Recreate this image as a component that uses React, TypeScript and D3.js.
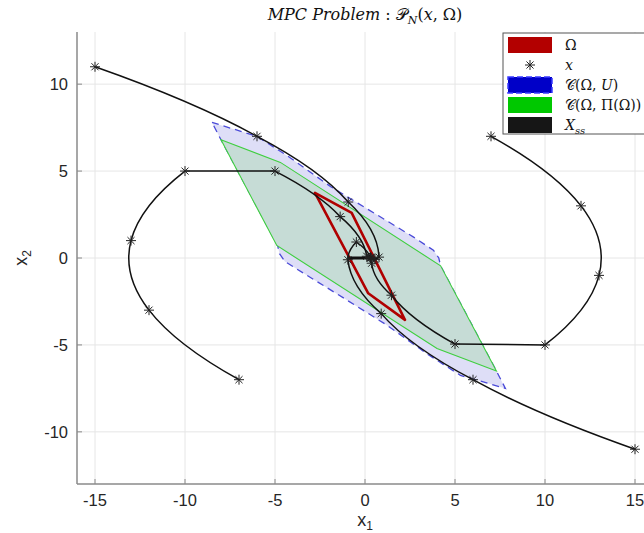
import React from "react";
import * as d3 from "d3";

const W = 644;
const H = 533;
const M = { top: 32, right: -9, bottom: 49, left: 77 };

const xTicks = [-15, -10, -5, 0, 5, 10, 15];
const yTicks = [-10, -5, 0, 5, 10];

// C(Omega, U): outer set (blue dashed)
const blueSet = [
  [-8.5, 7.8], [-6.0, 7.0], [-4.2, 5.8], [-1.9, 4.1], [0.8, 2.4], [2.7, 1.2],
  [3.8, 0.45], [4.1, 0.0], [4.2, -0.45], [7.3, -6.5], [7.8, -7.5], [5.3, -6.75],
  [3.5, -5.55], [1.2, -3.85], [-1.5, -2.1], [-3.3, -0.95], [-4.45, -0.2],
  [-4.75, 0.25], [-4.85, 0.7], [-8.0, 6.8],
];

// C(Omega, Pi(Omega)): green set
const greenSet = [
  [-8.0, 6.8], [-4.7, 5.5], [4.2, -0.45], [7.3, -6.5], [4.0, -5.2], [-4.9, 0.72],
];

// Omega: red set
const omegaSet = [
  [-2.78, 3.75], [-0.74, 2.6], [2.22, -3.56], [0.18, -2.03],
];

// X_ss segment
const xss = [[-0.92, 0], [0.48, 0]];

// closed-loop trajectories (sampled states)
const traj1 = [[-15, 11], [-6, 7], [-0.93, 3.22], [0.78, 0.05], [0.55, -0.08], [0.35, 0]];
const traj2 = [[-7, -7], [-12, -3], [-13, 1], [-10, 5], [-5, 5], [-1.38, 2.38], [0.1, 0.1], [0.3, 0]];
const traj3 = [[7, 7], [12, 3], [13, -1], [10, -5], [5, -4.95], [1.47, -2.14], [0.37, -0.3], [0.3, 0]];
const traj4 = [[15, -11], [6, -7], [0.9, -3.2], [-0.95, -0.1], [-0.48, 0.92], [0.3, 0.05]];
const trajectories = [traj1, traj2, traj3, traj4];

const legendItems = ["omega", "x", "cu", "cpi", "xss"];

export default function App() {
  const x = d3.scaleLinear().domain([-16, 16]).range([M.left, W - M.right]);
  const y = d3.scaleLinear().domain([-13, 13]).range([H - M.bottom, M.top]);

  const poly = (pts: number[][]) =>
    "M" + pts.map((p) => `${x(p[0])},${y(p[1])}`).join("L") + "Z";

  // smooth path between samples (double integrator style arcs)
  const trajPath = (pts: number[][]) => {
    const p = d3.path();
    p.moveTo(x(pts[0][0]), y(pts[0][1]));
    for (let i = 1; i < pts.length; i++) {
      const [a1, a2] = pts[i - 1];
      const [b1, b2] = pts[i];
      const cx = (a1 + a2 / 2 + (b1 - b2 / 2)) / 2;
      const cy = (a2 + b2) / 2;
      p.quadraticCurveTo(x(cx), y(cy), x(b1), y(b2));
    }
    return p.toString();
  };

  const star = (cx: number, cy: number, r: number, key: string) => (
    <g key={key} stroke="#222" strokeWidth={1}>
      {[0, 45, 90, 135].map((a) => {
        const rad = (a * Math.PI) / 180;
        const dx = Math.cos(rad) * r;
        const dy = Math.sin(rad) * r;
        return <line key={a} x1={cx - dx} y1={cy - dy} x2={cx + dx} y2={cy + dy} />;
      })}
    </g>
  );

  const x0 = M.left;
  const yb = H - M.bottom;
  const serif = "'DejaVu Serif', 'Liberation Serif', serif";
  const sans = "'Liberation Sans', Arial, sans-serif";

  const lgX = 503;
  const lgY = 33;
  const rowY = (i: number) => lgY + 12 + i * 20;

  return (
    <svg width={W} height={H} style={{ position: "absolute", left: 0, top: 0 }}>
      <rect width={W} height={H} fill="#fff" />
      {/* grid */}
      {xTicks.map((t) => (
        <line key={"gx" + t} x1={x(t)} x2={x(t)} y1={M.top} y2={yb} stroke="#e6e6e6" />
      ))}
      {yTicks.map((t) => (
        <line key={"gy" + t} x1={x0} x2={W} y1={y(t)} y2={y(t)} stroke="#e6e6e6" />
      ))}

      {/* sets */}
      <path d={poly(blueSet)} fill="#dedef7" stroke="#4a4ad8" strokeWidth={1.3} strokeDasharray="7,5" />
      <path d={poly(greenSet)} fill="#c6dcd6" stroke="#3fcf3f" strokeWidth={1.1} />
      <path d={poly(omegaSet)} fill="none" stroke="#b00000" strokeWidth={2.6} strokeLinejoin="round" />

      {/* trajectories */}
      {trajectories.map((t, i) => (
        <path key={"t" + i} d={trajPath(t)} fill="none" stroke="#111" strokeWidth={1.5} />
      ))}
      <line x1={x(xss[0][0])} x2={x(xss[1][0])} y1={y(xss[0][1])} y2={y(xss[1][1])} stroke="#111" strokeWidth={3} />
      {trajectories.map((t, i) => t.map((p, j) => star(x(p[0]), y(p[1]), 5, `s${i}-${j}`)))}

      {/* axes */}
      <line x1={x0} x2={x0} y1={M.top} y2={yb} stroke="#8a8a8a" strokeWidth={1.5} />
      <line x1={x0} x2={W} y1={yb} y2={yb} stroke="#8a8a8a" strokeWidth={1.5} />
      {xTicks.map((t) => (
        <g key={"xt" + t}>
          <line x1={x(t)} x2={x(t)} y1={yb} y2={yb - 5} stroke="#8a8a8a" />
          <text x={x(t)} y={yb + 22} textAnchor="middle" fontFamily={sans} fontSize={16.5} fill="#262626">
            {t}
          </text>
        </g>
      ))}
      {yTicks.map((t) => (
        <g key={"yt" + t}>
          <line x1={x0} x2={x0 + 5} y1={y(t)} y2={y(t)} stroke="#8a8a8a" />
          <text x={x0 - 9} y={y(t) + 6} textAnchor="end" fontFamily={sans} fontSize={16.5} fill="#262626">
            {t}
          </text>
        </g>
      ))}
      <text x={x(0)} y={526} textAnchor="middle" fontFamily={sans} fontSize={18} fill="#262626">
        x<tspan dy={4} fontSize={12}>1</tspan>
      </text>
      <text transform={`translate(27,${y(0)}) rotate(-90)`} textAnchor="middle" fontFamily={sans} fontSize={18} fill="#262626">
        x<tspan dy={4} fontSize={12}>2</tspan>
      </text>

      {/* title */}
      <text x={x(0)} y={20} textAnchor="middle" fontFamily={serif} fontSize={16} fill="#111">
        <tspan fontStyle="italic">MPC  Problem</tspan>
        <tspan> : </tspan>
        <tspan>𝒫</tspan>
        <tspan fontStyle="italic" fontSize={11} dy={4}>N</tspan>
        <tspan dy={-4}>(</tspan>
        <tspan fontStyle="italic">x</tspan>
        <tspan>, Ω)</tspan>
      </text>

      {/* legend */}
      <rect x={lgX} y={lgY} width={160} height={101} fill="#fff" stroke="#555" strokeWidth={1} />
      {legendItems.map((k, i) => {
        const cy = rowY(i);
        const sw = { x: lgX + 5, y: cy - 8, w: 44, h: 16 };
        let swatch: React.ReactNode = null;
        if (k === "omega") swatch = <rect x={sw.x} y={sw.y} width={sw.w} height={sw.h} fill="#b30000" />;
        if (k === "x") swatch = star(sw.x + sw.w / 2, cy, 5, "lgstar");
        if (k === "cu")
          swatch = (
            <rect x={sw.x} y={sw.y} width={sw.w} height={sw.h} fill="#0000c8" stroke="#3a3aff" strokeWidth={1.5} strokeDasharray="6,3" />
          );
        if (k === "cpi") swatch = <rect x={sw.x} y={sw.y} width={sw.w} height={sw.h} fill="#00c800" />;
        if (k === "xss") swatch = <rect x={sw.x} y={sw.y} width={sw.w} height={sw.h} fill="#161616" />;
        let label: React.ReactNode = null;
        if (k === "omega") label = <tspan>Ω</tspan>;
        if (k === "x") label = <tspan fontStyle="italic">x</tspan>;
        if (k === "cu")
          label = (
            <>
              <tspan>𝒞(Ω, </tspan>
              <tspan fontStyle="italic">U</tspan>
              <tspan>)</tspan>
            </>
          );
        if (k === "cpi") label = <tspan>𝒞(Ω, Π(Ω))</tspan>;
        if (k === "xss")
          label = (
            <>
              <tspan fontStyle="italic">X</tspan>
              <tspan fontStyle="italic" fontSize={10} dy={4}>ss</tspan>
            </>
          );
        return (
          <g key={k}>
            {swatch}
            <text x={lgX + 62} y={cy + 5} fontFamily={serif} fontSize={14} fill="#111">
              {label}
            </text>
          </g>
        );
      })}
    </svg>
  );
}
